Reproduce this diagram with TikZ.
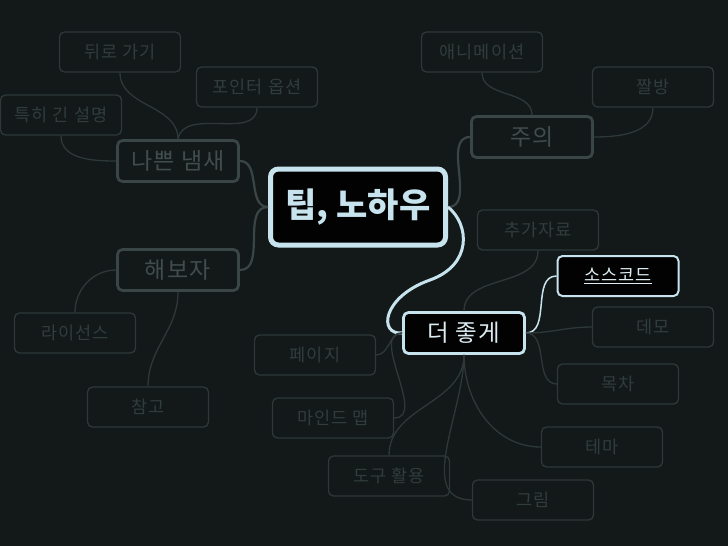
\documentclass[tikz,border=0pt]{standalone}
\usepackage{fontspec}
\setmainfont{Noto Sans CJK KR}
\newfontfamily\spacedkr[LetterSpace=6]{Noto Sans CJK KR}
\usepackage{xcolor}
\usetikzlibrary{arrows,shapes,calc,positioning}
\definecolor{bgdark}{HTML}{131919}
\definecolor{leafline}{HTML}{2E3839}
\definecolor{leaftext}{HTML}{313C3D}
\definecolor{majorline}{HTML}{3A4546}
\definecolor{majortext}{HTML}{414C4D}
\definecolor{icyblue}{HTML}{C6E3EE}
\definecolor{icytext}{HTML}{DCECF2}
\tikzset{
	leaf/.style={draw=leafline, line width=1.3pt, rounded corners=5pt, fill=bgdark, text=leaftext, minimum width=121pt, minimum height=40pt, inner sep=0pt, font=\spacedkr\fontsize{17.5}{19}\selectfont},
	major/.style={leaf, draw=majorline, line width=2.8pt, text=majortext, minimum height=41pt, font=\spacedkr\fontsize{23}{25}\selectfont},
	twig/.style={draw=leafline, line width=1.3pt},
	branch/.style={draw=majorline, line width=2.2pt},
}
\begin{document}
\begin{tikzpicture}[x=1pt, y=-1pt]
		\fill [bgdark] (0,0) rectangle (728,546);
		\useasboundingbox (0,0) rectangle (728,546);
		% centre
		\node [draw=icyblue, line width=5pt, rounded corners=8pt, fill=black!90!bgdark, text=icyblue, minimum width=175pt, minimum height=76pt, inner sep=0pt, font=\fontsize{34}{36}\selectfont\bfseries] (tips) at (358,207) {팁, 노하우};
		% left side
		\node [major] (smell) at (178,161) {나쁜 냄새};
		\node [leaf] (back) at (120,52) {뒤로 가기};
		\node [leaf] (pointer) at (257,87) {포인터 옵션};
		\node [leaf] (longtext) at (61,115) {특히 긴 설명};
		\node [major] (tryit) at (178,270) {해보자};
		\node [leaf] (license) at (75,333) {라이선스};
		\node [leaf] (refs) at (148,407) {참고};
		% right side
		\node [major] (caution) at (532,137) {주의};
		\node [leaf] (anim) at (482,52) {애니메이션};
		\node [leaf] (jjal) at (653,87) {짤방};
		\node [draw=icyblue, line width=2.8pt, rounded corners=5pt, fill=black!90!bgdark, text=icytext, minimum width=121pt, minimum height=41pt, inner sep=0pt, font=\spacedkr\fontsize{23.5}{25}\selectfont] (better) at (464,333) {더 좋게};
		\node [leaf] (extra) at (538,230) {추가자료};
		\node [leaf, draw=icyblue, line width=2pt, fill=black!90!bgdark, text=icytext] (source) at (618,276) {\underline{소스코드}};
		\node [leaf] (demo) at (653,327) {데모};
		\node [leaf] (toc) at (618,384) {목차};
		\node [leaf] (theme) at (602,447) {테마};
		\node [leaf] (picture) at (533,500) {그림};
		\node [leaf] (page) at (315,355) {페이지};
		\node [leaf] (mindmap) at (333,418) {마인드 맵};
		\node [leaf] (tools) at (389,476) {도구 활용};
		% main branches
		\draw [branch] (smell.east) to[out=0, in=180] (tips.west);
		\draw [branch] (tryit.east) to[out=0, in=180] (tips.west);
		\draw [branch] (tips.east) to[out=0, in=180] (caution.west);
		\draw [draw=icyblue, line width=3pt] (tips.east) .. controls (470,225) and (472,265) .. (430,280) .. controls (382,297) and (378,335) .. (better.west);
		% twigs
		\draw [twig] (back.south) to[out=-90, in=90] (smell.north);
		\draw [twig] (pointer.south) to[out=-90, in=80] (smell.north);
		\draw [twig] (longtext.south) to[out=-90, in=180] (smell.west);
		\draw [twig] (license.north) to[out=90, in=180] (tryit.west);
		\draw [twig] (refs.north) to[out=90, in=-90] (tryit.south);
		\draw [twig] (anim.south) to[out=-90, in=90] (caution.north);
		\draw [twig] (jjal.south) to[out=-90, in=0] (caution.east);
		\draw [twig] (extra.south) to[out=-90, in=90] (better.north);
		\draw [draw=icyblue, line width=1.5pt] (source.west) to[out=180, in=0] (better.east);
		\draw [twig] (demo.west) to[out=180, in=0] (better.east);
		\draw [twig] (toc.west) to[out=180, in=0] (better.east);
		\draw [twig] (page.east) to[out=0, in=180] (better.west);
		\draw [twig] (mindmap.east) to[out=0, in=180] (better.west);
		\draw [twig] (tools.north) to[out=90, in=-90] (better.south);
		\draw [twig] (theme.west) to[out=180, in=-90] (better.south);
		\draw [twig] (picture.west) to[out=180, in=-90] (better.south);
	\end{tikzpicture}
\end{document}
